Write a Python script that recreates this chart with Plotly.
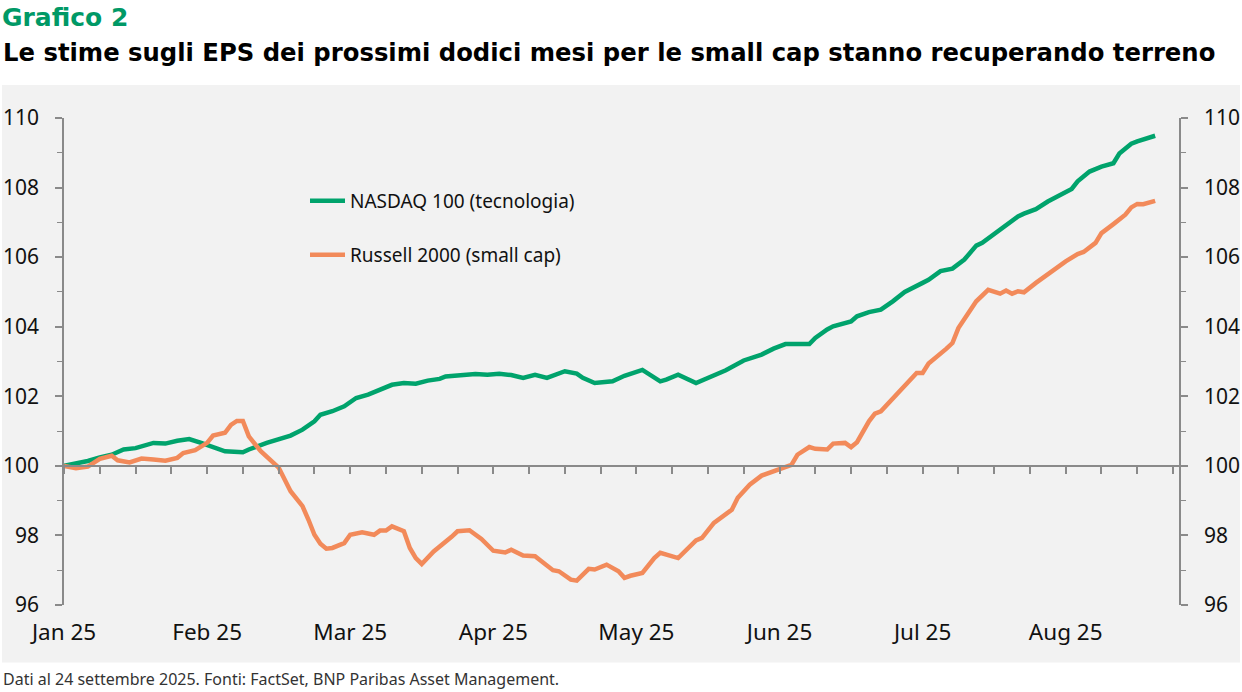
import plotly.graph_objects as go

# ---- data (index = trading-day position on the category axis) ----
nasdaq_idx = [0, 2, 4, 6, 8, 10, 12, 15, 17, 19, 21, 23, 25, 27, 30, 31, 34, 36, 38, 40,
              42, 43, 45, 47, 49, 51, 53, 55, 57, 59, 61, 63, 64, 67, 69, 71, 73, 75, 77, 79,
              81, 84, 86, 87, 89, 92, 94, 97, 100, 101, 103, 106, 108, 111, 114, 117, 119, 121, 125, 126,
              128, 129, 132, 133, 135, 137, 139, 141, 144, 145, 147, 149, 151, 153, 154, 156, 158, 160, 161, 163,
              165, 167, 169, 170, 172, 174, 176, 177, 179, 180, 183]
nasdaq_vals = [100.0, 100.06, 100.14, 100.24, 100.32, 100.47, 100.51, 100.66, 100.64, 100.72, 100.77, 100.66, 100.53, 100.42, 100.39, 100.47, 100.66, 100.77, 100.87, 101.04,
               101.28, 101.47, 101.57, 101.71, 101.95, 102.05, 102.19, 102.33, 102.38, 102.36, 102.45, 102.5, 102.57, 102.61, 102.64, 102.62, 102.65, 102.61, 102.53, 102.62,
               102.53, 102.72, 102.65, 102.53, 102.38, 102.43, 102.59, 102.76, 102.43, 102.48, 102.62, 102.38, 102.53, 102.75, 103.03, 103.2, 103.37, 103.5, 103.5, 103.68,
               103.92, 104.01, 104.15, 104.3, 104.42, 104.49, 104.73, 105.0, 105.26, 105.35, 105.6, 105.67, 105.93, 106.33, 106.41, 106.67, 106.93, 107.17, 107.25, 107.38,
               107.6, 107.77, 107.96, 108.18, 108.46, 108.6, 108.7, 108.98, 109.26, 109.33, 109.49]

russell_idx = [0, 2, 4, 6, 8, 9, 11, 13, 15, 17, 19, 20, 22, 24, 25, 27, 28, 29, 30, 31,
               33, 35, 36, 38, 40, 41, 42, 43, 44, 45, 47, 48, 50, 52, 53, 54, 55, 57, 58, 59,
               60, 62, 64, 65, 66, 68, 70, 72, 74, 75, 77, 79, 82, 83, 85, 86, 88, 89, 91, 93,
               94, 95, 97, 99, 100, 103, 106, 107, 109, 112, 113, 115, 117, 118, 120, 122, 123, 125, 126, 128,
               129, 131, 132, 133, 135, 136, 137, 139, 141, 143, 144, 145, 148, 149, 150, 151, 153, 155, 157, 158,
               159, 160, 161, 163, 165, 166, 168, 170, 171, 173, 174, 176, 178, 179, 180, 181, 183]
russell_vals = [100.0, 99.93, 99.98, 100.2, 100.29, 100.16, 100.1, 100.21, 100.18, 100.15, 100.23, 100.37, 100.45, 100.66, 100.87, 100.95, 101.18, 101.29, 101.29, 100.85,
                100.42, 100.13, 99.95, 99.27, 98.84, 98.45, 98.02, 97.76, 97.62, 97.64, 97.78, 98.02, 98.09, 98.02, 98.14, 98.14, 98.26, 98.12, 97.64, 97.35,
                97.18, 97.54, 97.8, 97.96, 98.12, 98.15, 97.9, 97.56, 97.51, 97.59, 97.42, 97.4, 97.0, 96.97, 96.73, 96.7, 97.04, 97.02, 97.16, 96.97,
                96.78, 96.84, 96.92, 97.35, 97.5, 97.35, 97.86, 97.93, 98.36, 98.74, 99.08, 99.46, 99.72, 99.78, 99.89, 100.03, 100.32, 100.54, 100.49, 100.47,
                100.64, 100.66, 100.54, 100.68, 101.28, 101.5, 101.57, 101.95, 102.33, 102.67, 102.67, 102.94, 103.37, 103.53, 103.96, 104.23, 104.73, 105.06, 104.95, 105.04,
                104.95, 105.02, 104.99, 105.26, 105.52, 105.64, 105.88, 106.09, 106.15, 106.41, 106.69, 106.95, 107.22, 107.43, 107.53, 107.52, 107.62]

month_pos = [0, 24, 48, 72, 96, 120, 144, 168]
month_labels = ["Jan 25", "Feb 25", "Mar 25", "Apr 25", "May 25", "Jun 25", "Jul 25", "Aug 25"]
week_ticks = list(range(0, 187, 6))
y_ticks = [96, 98, 100, 102, 104, 106, 108, 110]

name_nasdaq = "NASDAQ 100 (tecnologia)"
name_russell = "Russell 2000 (small cap)"
title_text = "Grafico 2"
subtitle_text = "Le stime sugli EPS dei prossimi dodici mesi per le small cap stanno recuperando terreno"
source_text = "Dati al 24 settembre 2025. Fonti: FactSet, BNP Paribas Asset Management."

GREEN = "#00a36c"
ORANGE = "#f28a5a"
AXIS = "#8a8a8a"
FONT = "Noto Sans"
TFONT = "DejaVu Sans, sans-serif"

W, H = 1242, 692
ML, MR, MT, MB = 64, 63, 118, 87
PW, PH = W - ML - MR, H - MT - MB


def px_x(p):
    return (p - ML) / PW


def px_y(p):
    return (H - MB - p) / PH


fig = go.Figure()
fig.add_trace(go.Scatter(x=nasdaq_idx, y=nasdaq_vals, mode="lines", name=name_nasdaq,
                         line=dict(color=GREEN, width=4.5), legend="legend"))
fig.add_trace(go.Scatter(x=russell_idx, y=russell_vals, mode="lines", name=name_russell,
                         line=dict(color=ORANGE, width=4.5), legend="legend2"))

x_range = [0, 187]
y_range = [96, 110]

ytickfont = dict(size=21, color="#111")
xtickfont = dict(size=22.5, color="#111")
minor = dict(dtick=1, ticks="outside", ticklen=5, tickwidth=1.2, tickcolor=AXIS, showgrid=False)
legfont = dict(size=19, color="#111")

fig.update_layout(
    width=W, height=H,
    margin=dict(l=ML, r=MR, t=MT, b=MB, autoexpand=False),
    paper_bgcolor="white",
    plot_bgcolor="rgba(0,0,0,0)",
    font=dict(family=FONT, color="#1a1a1a"),
    xaxis=dict(range=x_range, tickvals=month_pos, ticktext=month_labels, ticks="",
               showline=False, showgrid=False, zeroline=False, automargin=False,
               tickfont=xtickfont, ticklabelstandoff=11),
    xaxis2=dict(range=x_range, overlaying="x", anchor="free",
                position=(100 - y_range[0]) / (y_range[1] - y_range[0]),
                side="bottom", tickvals=week_ticks, ticks="outside", ticklen=7,
                tickwidth=1.5, tickcolor=AXIS, showline=True, linecolor=AXIS, linewidth=1.5,
                showticklabels=False, showgrid=False, zeroline=False, automargin=False),
    yaxis=dict(range=y_range, tickvals=y_ticks, ticks="outside", ticklen=7, tickwidth=1.5,
               tickcolor=AXIS, showline=True, linecolor=AXIS, linewidth=1.5,
               showgrid=False, zeroline=False, tickfont=ytickfont, automargin=False,
               ticklabelstandoff=12, minor=minor),
    yaxis2=dict(range=y_range, overlaying="y", side="right", anchor="x", tickvals=y_ticks,
                ticks="outside", ticklen=7, tickwidth=1.5, tickcolor=AXIS, showline=True,
                linecolor=AXIS, linewidth=1.5, showgrid=False, zeroline=False, automargin=False,
                tickfont=ytickfont, ticklabelstandoff=12, minor=minor),
    legend=dict(x=px_x(305), y=px_y(201), xanchor="left", yanchor="middle", itemwidth=35,
                bgcolor="rgba(0,0,0,0)", font=legfont),
    legend2=dict(x=px_x(305), y=px_y(255), xanchor="left", yanchor="middle", itemwidth=35,
                 bgcolor="rgba(0,0,0,0)", font=legfont),
    shapes=[dict(type="rect", xref="paper", yref="paper", layer="below",
                 x0=px_x(2), x1=px_x(1240), y0=px_y(662.5), y1=px_y(85),
                 fillcolor="#f2f2f2", line=dict(width=0))],
    annotations=[
        dict(text=f"<b>{title_text}</b>", xref="paper", yref="paper", x=px_x(0), y=px_y(17),
             xanchor="left", yanchor="middle", showarrow=False,
             font=dict(family=TFONT, size=25, color="#009966")),
        dict(text=f"<b>{subtitle_text}</b>", xref="paper", yref="paper", x=px_x(1), y=px_y(52),
             xanchor="left", yanchor="middle", showarrow=False,
             font=dict(family=TFONT, size=24.3, color="#000")),
        dict(text=source_text, xref="paper", yref="paper", x=px_x(1), y=px_y(679),
             xanchor="left", yanchor="middle", showarrow=False,
             font=dict(family=FONT, size=16, color="#333")),
    ],
)

# invisible helper so the secondary axes are drawn
fig.add_trace(go.Scatter(x=[x_range[0]], y=[y_range[0]], xaxis="x2", yaxis="y2", mode="markers",
                         marker=dict(opacity=0), showlegend=False, hoverinfo="skip"))

fig.write_html("out.html", config={"displayModeBar": False},
               post_script="document.body.style.margin='0';document.body.style.overflow='hidden';")
